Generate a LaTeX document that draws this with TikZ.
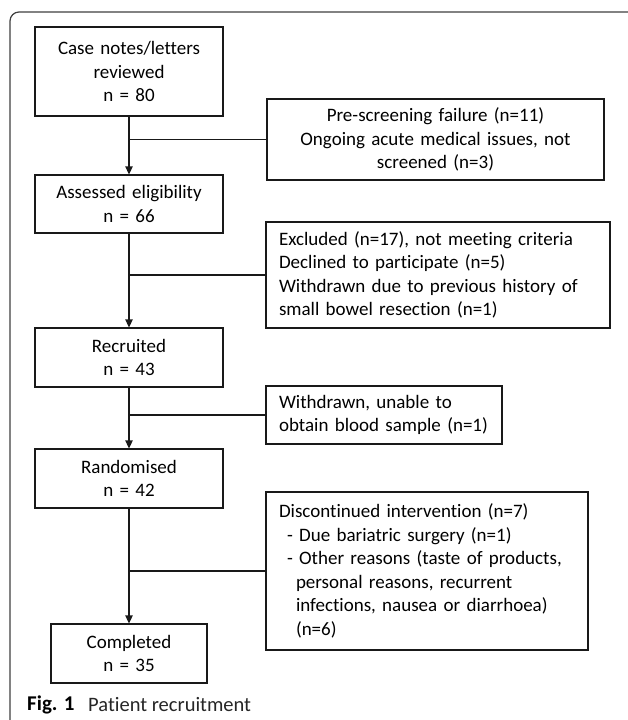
\documentclass[tikz,border=0pt]{standalone}
\usepackage{fontspec}
\setmainfont{Carlito}[RawFeature={-liga;-clig;-calt;-dlig}]
\usetikzlibrary{arrows.meta}
\newcommand{\boxfont}{\fontsize{19}{23.5}\selectfont}
\begin{document}
\begin{tikzpicture}[x=1pt,y=-1pt,
  cbox/.style={draw=black!90,line width=1.3pt,inner xsep=4pt,inner ysep=0pt,align=center,font=\boxfont},
  lbox/.style={draw=black!90,line width=1.3pt,inner xsep=13pt,inner ysep=0pt,align=left,font=\boxfont},
  arr/.style={line width=1.3pt,draw=black!90,-{Triangle[length=8pt,width=7.5pt]}},
  branch/.style={line width=1.3pt,draw=black!90}]
\useasboundingbox (0,0) rectangle (627,720);
\fill[white] (0,0) rectangle (627,720);
% frame
\draw[black!75,line width=1.2pt,rounded corners=9pt] (10,721) -- (10,12) -- (628,12);
% main column
\node[cbox,minimum width=188,minimum height=89,text width=180] (b1) at (129,71.5) {Case notes/letters\\reviewed\\n = 80};
\node[cbox,minimum width=188,minimum height=58,text width=180] (b2) at (129,204) {Assessed eligibility\\n = 66};
\node[cbox,minimum width=188,minimum height=59,text width=180] (b3) at (129,357.5) {Recruited\\n = 43};
\node[cbox,minimum width=188,minimum height=59,text width=180] (b4) at (129,478.5) {Randomised\\n = 42};
\node[cbox,minimum width=156,minimum height=59,text width=148] (b5) at (129,653.5) {Completed\\n = 35};
% side boxes
\node[cbox,minimum width=337,minimum height=81,text width=329] (s1) at (435.5,139.5) {Pre-screening failure (n=11)\\Ongoing acute medical issues, not\\screened (n=3)};
\node[lbox,minimum width=344,minimum height=106,text width=318] (s2) at (438,275) {Excluded (n=17), not meeting criteria\\Declined to participate (n=5)\\Withdrawn due to previous history of\\small bowel resection (n=1)};
\node[lbox,minimum width=236,minimum height=58,text width=210] (s3) at (384,415) {Withdrawn, unable to\\obtain blood sample (n=1)};
\node[lbox,minimum width=322,minimum height=158,text width=296] (s4) at (427,571) {Discontinued intervention (n=7)\\\hspace*{8pt}- Due bariatric surgery (n=1)\\\hspace*{8pt}- Other reasons (taste of products,\\\hspace*{17pt}personal reasons, recurrent\\\hspace*{17pt}infections, nausea or diarrhoea)\\\hspace*{17pt}(n=6)};
% arrows
\draw[arr] (b1.south) -- (b2.north);
\draw[arr] (b2.south) -- (b3.north);
\draw[arr] (b3.south) -- (b4.north);
\draw[arr] (b4.south) -- (b5.north);
% branches
\draw[branch] (s1.west) -- (s1.west -| b1.south);
\draw[branch] (s2.west) -- (s2.west -| b1.south);
\draw[branch] (s3.west) -- (s3.west -| b1.south);
\draw[branch] (s4.west) -- (s4.west -| b1.south);
% caption
\node[anchor=west,inner sep=0pt,font=\fontsize{21}{24}\selectfont\bfseries] (fig) at (27,705) {Fig. 1};
\node[anchor=west,inner sep=0pt,font=\fontsize{20.5}{24}\selectfont,text=black!85] (cap) at (88,705) {Patient recruitment};
\end{tikzpicture}
\end{document}
